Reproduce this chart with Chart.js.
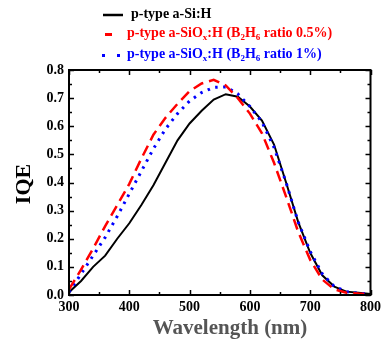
<!DOCTYPE html>
<html><head><meta charset="utf-8">
<script src="https://cdn.jsdelivr.net/npm/chart.js@4"></script>
<style>
html,body{margin:0;padding:0;background:#fff;}
#wrap{position:relative;width:385px;height:342px;}
canvas{position:absolute;left:0;top:0;}
.lg{position:absolute;left:0;font:bold 14px "Liberation Serif",serif;white-space:nowrap;}
.lg sub{font-size:9px;vertical-align:-3px;line-height:0;}
</style></head>
<body>
<div id="wrap">
<canvas id="c" width="385" height="342"></canvas>
<div class="lg" style="top:6px;left:131px;color:#000">p-type a-Si:H</div>
<div class="lg" style="top:25px;left:127px;color:#ff0000">p-type a-SiO<sub>x</sub>:H (B<sub>2</sub>H<sub>6</sub> ratio 0.5%)</div>
<div class="lg" style="top:46px;left:127px;color:#0000ff">p-type a-SiO<sub>x</sub>:H (B<sub>2</sub>H<sub>6</sub> ratio 1%)</div>
</div>
<script>
const wavelengths = [300,320,340,360,380,400,420,440,460,480,500,520,540,560,580,600,620,640,660,680,700,720,740,760,780,800];
const iqeSi      = [0.01,0.05,0.10,0.14,0.20,0.255,0.32,0.39,0.47,0.55,0.61,0.655,0.695,0.714,0.705,0.67,0.62,0.535,0.40,0.26,0.15,0.07,0.03,0.012,0.008,0.004];
const iqeSiOx05  = [0.02,0.09,0.165,0.245,0.32,0.395,0.485,0.57,0.63,0.68,0.725,0.752,0.765,0.745,0.70,0.645,0.575,0.47,0.35,0.225,0.125,0.055,0.02,0.008,0.005,0.003];
const iqeSiOx1   = [0.01,0.075,0.14,0.205,0.28,0.36,0.44,0.52,0.59,0.645,0.69,0.72,0.738,0.74,0.715,0.67,0.615,0.525,0.40,0.26,0.155,0.075,0.03,0.012,0.006,0.004];
const seriesNames = ['p-type a-Si:H','p-type a-SiOx:H (B2H6 ratio 0.5%)','p-type a-SiOx:H (B2H6 ratio 1%)'];
const xTicks = [300,400,500,600,700,800];
const yTicks = [0.0,0.1,0.2,0.3,0.4,0.5,0.6,0.7,0.8];
const xTitle = 'Wavelength (nm)';
const yTitle = 'IQE';

const pts = (ys)=>wavelengths.map((x,i)=>({x, y: ys[i]}));

const framePlugin = {
  id:'frame',
  afterDraw(chart){
    const {ctx, chartArea:a, scales:{x,y}} = chart;
    ctx.save();
    ctx.strokeStyle='#000';
    ctx.lineWidth=2;
    ctx.strokeRect(a.left, a.top, a.right-a.left, a.bottom-a.top);
    ctx.lineWidth=1.5;
    ctx.beginPath();
    for(let v=300; v<=800; v+=50){
      const px = Math.round(x.getPixelForValue(v))+0.5;
      const L = (v%100===0)?5:3;
      ctx.moveTo(px, a.bottom); ctx.lineTo(px, a.bottom-L);
      ctx.moveTo(px, a.top); ctx.lineTo(px, a.top+L);
    }
    for(let k=0; k<=16; k++){
      const v = k*0.05;
      const py = Math.round(y.getPixelForValue(v))+0.5;
      const L = (k%2===0)?5:3;
      ctx.moveTo(a.left, py); ctx.lineTo(a.left+L, py);
      ctx.moveTo(a.right, py); ctx.lineTo(a.right-L, py);
    }
    ctx.stroke();
    // axis titles
    ctx.textAlign='center'; ctx.textBaseline='middle';
    ctx.fillStyle='#555';
    ctx.font='bold 21px "Liberation Serif", serif';
    ctx.fillText(xTitle, 230, 329);
    ctx.fillStyle='#000';
    ctx.font='bold 22px "Liberation Serif", serif';
    ctx.translate(24, 184); ctx.rotate(-Math.PI/2);
    ctx.fillText(yTitle, 0, 0);
    ctx.setTransform(1,0,0,1,0,0);
    // legend swatches
    ctx.lineWidth=2.5;
    ctx.strokeStyle='#000'; ctx.setLineDash([]);
    ctx.beginPath(); ctx.moveTo(103,15); ctx.lineTo(123,15); ctx.stroke();
    ctx.strokeStyle='#ff0000'; ctx.lineWidth=3;
    ctx.beginPath(); ctx.moveTo(105,34.5); ctx.lineTo(112,34.5); ctx.stroke();
    ctx.fillStyle='#0000ff';
    ctx.fillRect(102,54,3,3); ctx.fillRect(117,54,3,3);
    ctx.restore();
  }
};

new Chart(document.getElementById('c'), {
  type:'line',
  data:{
    datasets:[
      {label:seriesNames[0], data:pts(iqeSi), borderColor:'#000', borderWidth:2, pointRadius:0, tension:0, fill:false, order:3},
      {label:seriesNames[2], data:pts(iqeSiOx1), borderColor:'#0000ff', borderWidth:3, borderDash:[2.5,5.5], pointRadius:0, tension:0, fill:false, order:2},
      {label:seriesNames[1], data:pts(iqeSiOx05), borderColor:'#ff0000', borderWidth:2.5, borderDash:[11,6], pointRadius:0, tension:0, fill:false, order:1}
    ]
  },
  options:{
    responsive:false, animation:false,
    layout:{padding:{top:70,right:9,left:0,bottom:0}},
    plugins:{legend:{display:false}, tooltip:{enabled:false}},
    scales:{
      x:{type:'linear', min:300, max:800,
        afterBuildTicks:(s)=>{s.ticks = xTicks.map(v=>({value:v}));},
        afterFit:(s)=>{s.height=47;},
        grid:{display:false, drawTicks:false}, border:{display:false},
        ticks:{padding:4, color:'#000', font:{family:'Liberation Serif', weight:'bold', size:14}, maxRotation:0, autoSkip:false}
      },
      y:{type:'linear', min:0, max:0.8,
        afterBuildTicks:(s)=>{s.ticks = yTicks.map(v=>({value:v}));},
        afterFit:(s)=>{s.width=69;},
        grid:{display:false, drawTicks:false}, border:{display:false},
        ticks:{padding:5, color:'#000', font:{family:'Liberation Serif', weight:'bold', size:14}, callback:(v)=>Number(v).toFixed(1)}
      }
    }
  },
  plugins:[framePlugin]
});
</script>
</body></html>
